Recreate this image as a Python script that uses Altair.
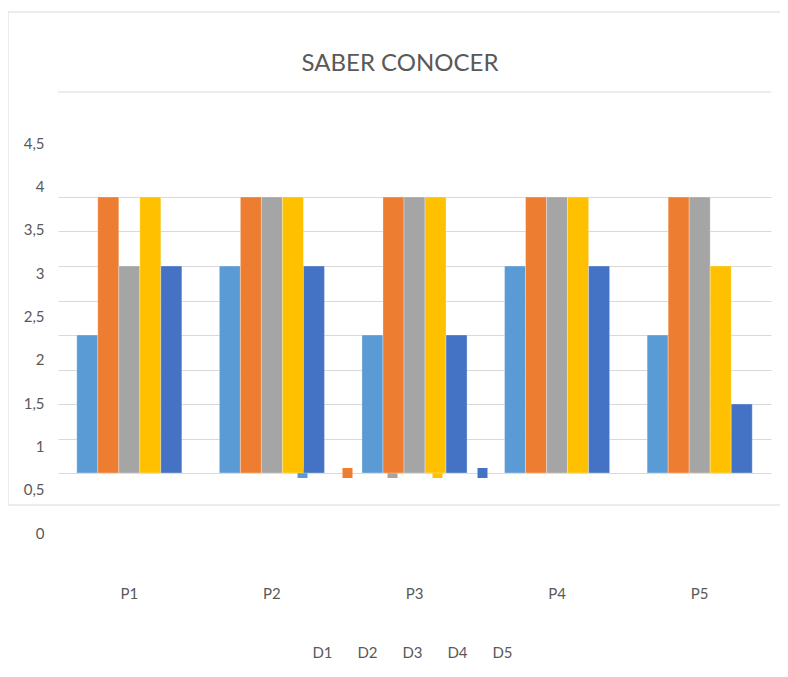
import altair as alt
import pandas as pd

# ---- data ----
groups = ["P1", "P2", "P3", "P4", "P5"]
series = ["D1", "D2", "D3", "D4", "D5"]
d1 = [2, 3, 2, 3, 2]
d2 = [4, 4, 4, 4, 4]
d3 = [3, 4, 4, 4, 4]
d4 = [4, 4, 4, 4, 3]
d5 = [3, 3, 2, 3, 1]
colors = ["#5B9BD5", "#ED7D31", "#A5A5A5", "#FFC000", "#4472C4"]
y_tick_labels = [0, 0.5, 1, 1.5, 2, 2.5, 3, 3.5, 4, 4.5]
grid_values = [0, 0.5, 1, 1.5, 2, 2.5, 3, 3.5, 4]
title_text = "SABER CONOCER"

vals = {"D1": d1, "D2": d2, "D3": d3, "D4": d4, "D5": d5}
df = pd.DataFrame(
    [{"P": g, "D": s, "v": vals[s][i]} for s in series for i, g in enumerate(groups)]
)
one = pd.DataFrame({"k": [0]})

FONT = "Lato"
GRAY = "#595959"
GRID = "#d9d9d9"
W, H = 713, 390
bar_dom = [-60 / 69, 4 + 54 / 69]
color_scale = alt.Scale(domain=series, range=colors)
legend_x = alt.X("D:N", scale=alt.Scale(type="point", domain=series, range=[244.5, 424.5], padding=0), axis=None)

frame = alt.Chart(one).mark_rect(fillOpacity=0, stroke=GRID, strokeWidth=1).encode(
    x=alt.value(-50), x2=alt.value(760), y=alt.value(-131), y2=alt.value(362)
)
title_line = alt.Chart(one).mark_rule(color=GRID, strokeWidth=1).encode(
    x=alt.value(0), x2=alt.value(713), y=alt.value(-51)
)
title = alt.Chart(one).mark_text(
    text=title_text, font=FONT, fontSize=24, color=GRAY, baseline="middle"
).encode(x=alt.value(342), y=alt.value(-79))

yaxis = alt.Chart(pd.DataFrame({"t": y_tick_labels})).mark_point(opacity=0).encode(
    y=alt.Y(
        "t:Q",
        scale=alt.Scale(domain=[0, 4.5], nice=False, zero=False),
        axis=alt.Axis(
            values=y_tick_labels,
            labelExpr="replace(format(datum.value, '~g'), '.', ',')",
            grid=False, ticks=False, domain=False, orient="left",
            labelPadding=14, labelFontSize=15, labelFont=FONT, labelColor=GRAY, title=None,
        ),
    )
)

legend_sq = alt.Chart(pd.DataFrame({"D": series})).mark_square(size=100, opacity=1).encode(
    x=legend_x,
    y=alt.Y(datum=0, type="quantitative", scale=alt.Scale(domain=bar_dom, nice=False, zero=False), axis=None),
    color=alt.Color("D:N", scale=color_scale, legend=None),
)

bars = alt.Chart(df).mark_bar(stroke="white", strokeWidth=0.6, strokeOpacity=0.5).encode(
    x=alt.X(
        "P:N", sort=groups,
        scale=alt.Scale(paddingInner=0.263, paddingOuter=0.1316),
        axis=alt.Axis(title=None, labelAngle=0, ticks=False, domain=False, labelPadding=53,
                      labelFontSize=15, labelFont=FONT, labelColor=GRAY, grid=False),
    ),
    xOffset=alt.XOffset("D:N", sort=series, scale=alt.Scale(paddingInner=0, paddingOuter=0)),
    y=alt.Y(
        "v:Q",
        scale=alt.Scale(domain=bar_dom, nice=False, zero=False),
        axis=alt.Axis(values=grid_values, labels=False, ticks=False, domain=False, grid=True,
                      gridColor=GRID, gridWidth=1, title=None, orient="right"),
    ),
    y2=alt.datum(0),
    color=alt.Color("D:N", scale=color_scale, legend=None),
)

legend_txt = alt.Chart(pd.DataFrame({"D": series})).mark_text(
    font=FONT, fontSize=15, color=GRAY, dx=20, baseline="middle"
).encode(x=legend_x, y=alt.value(510), text="D:N")

chart = (
    alt.layer(frame, title_line, title, yaxis, legend_sq, bars, legend_txt)
    .resolve_scale(x="independent", y="independent")
    .properties(
        width=W, height=H,
        autosize=alt.AutoSizeParams(type="none"),
        padding={"left": 50, "top": 135, "right": 9, "bottom": 130},
        background="white",
    )
    .configure_view(stroke="transparent")
)

chart.save("out.html", embed_options={"renderer": "svg", "actions": False})
